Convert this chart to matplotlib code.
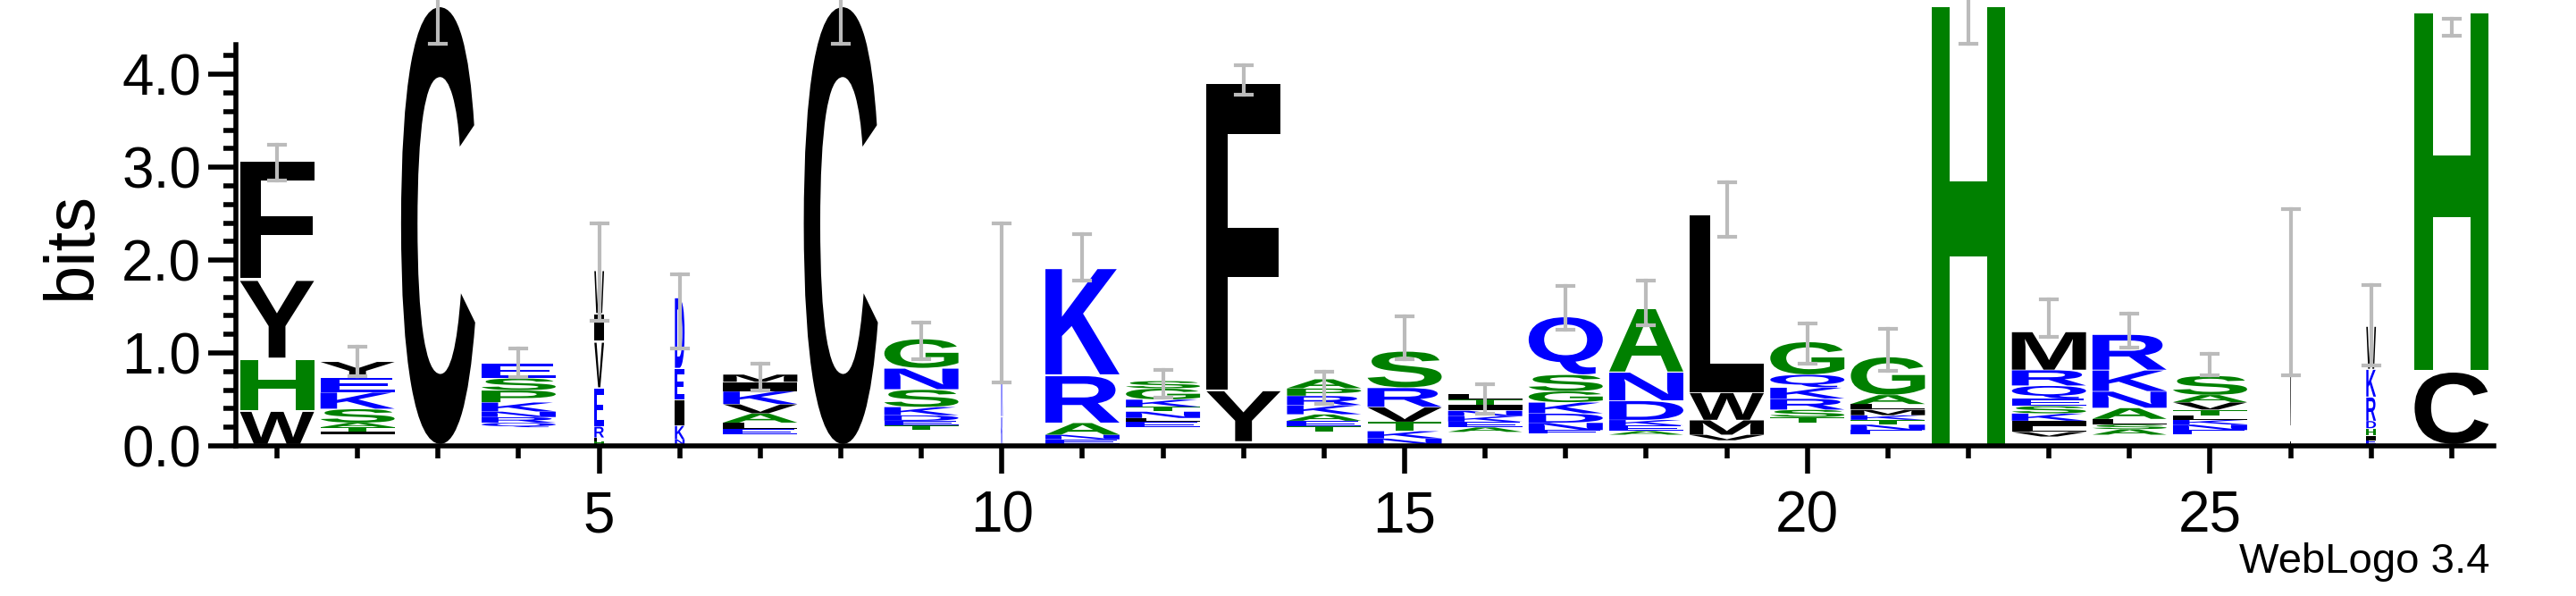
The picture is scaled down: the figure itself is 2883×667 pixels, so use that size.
import matplotlib
matplotlib.use("Agg")
import matplotlib.pyplot as plt
from matplotlib.textpath import TextPath
from matplotlib.patches import PathPatch
from matplotlib.font_manager import FontProperties
from matplotlib.transforms import Affine2D
from matplotlib.ticker import MultipleLocator

plt.rcParams['font.family'] = ['Liberation Sans', 'DejaVu Sans']

positions = list(range(1, 29))
# stacks bottom->top: (letter, bits)
stacks = {
    1: [('W', 0.36), ('H', 0.57), ('Y', 0.86), ('F', 1.3)],
    2: [('I', 0.03), ('T', 0.05), ('A', 0.05), ('S', 0.15), ('K', 0.18), ('E', 0.16), ('Y', 0.17)],
    3: [('C', 4.9)],
    4: [('Q', 0.05), ('R', 0.06), ('N', 0.06), ('K', 0.1), ('P', 0.13), ('S', 0.13), ('E', 0.16)],
    5: [('H', 0.03), ('F', 0.04), ('R', 0.12), ('E', 0.42), ('V', 0.5), ('I', 0.3), ('W', 0.47)],
    6: [('N', 0.05), ('K', 0.15), ('I', 0.28), ('E', 0.34), ('D', 0.78)],
    7: [('E', 0.06), ('L', 0.07), ('A', 0.1), ('V', 0.1), ('K', 0.14), ('I', 0.1), ('M', 0.08)],
    8: [('C', 4.9)],
    9: [('T', 0.05), ('E', 0.05), ('D', 0.06), ('K', 0.09), ('S', 0.19), ('N', 0.23), ('G', 0.32)],
    10: [('K', 0.3), ('R', 1.28)],
    11: [('E', 0.05), ('N', 0.05), ('A', 0.13), ('R', 0.52), ('K', 1.18)],
    12: [('E', 0.06), ('L', 0.04), ('N', 0.07), ('T', 0.05), ('K', 0.08), ('G', 0.12), ('S', 0.08)],
    13: [('Y', 0.56), ('F', 3.42)],
    14: [('T', 0.06), ('E', 0.06), ('A', 0.07), ('K', 0.1), ('R', 0.1), ('P', 0.08), ('A', 0.1)],
    15: [('N', 0.06), ('K', 0.08), ('T', 0.1), ('V', 0.16), ('R', 0.21), ('S', 0.4)],
    16: [('A', 0.05), ('E', 0.06), ('K', 0.06), ('N', 0.06), ('I', 0.06), ('T', 0.06), ('L', 0.06)],
    17: [('E', 0.04), ('N', 0.08), ('D', 0.1), ('K', 0.12), ('G', 0.12), ('S', 0.18), ('Q', 0.64)],
    18: [('A', 0.04), ('E', 0.06), ('K', 0.06), ('D', 0.21), ('N', 0.31), ('A', 0.7)],
    19: [('V', 0.06), ('M', 0.16), ('W', 0.3), ('L', 1.98)],
    20: [('T', 0.06), ('S', 0.08), ('R', 0.12), ('K', 0.12), ('Q', 0.14), ('G', 0.36)],
    21: [('E', 0.05), ('N', 0.06), ('T', 0.05), ('K', 0.05), ('M', 0.06), ('L', 0.06), ('A', 0.1), ('G', 0.42)],
    22: [('H', 4.9)],
    23: [('V', 0.05), ('L', 0.06), ('I', 0.06), ('K', 0.08), ('S', 0.08), ('E', 0.08), ('Q', 0.14), ('R', 0.17), ('M', 0.42)],
    24: [('A', 0.06), ('S', 0.05), ('L', 0.06), ('A', 0.12), ('N', 0.18), ('K', 0.23), ('R', 0.39)],
    25: [('E', 0.05), ('N', 0.06), ('K', 0.05), ('L', 0.05), ('T', 0.06), ('V', 0.08), ('A', 0.08), ('S', 0.21)],
    26: [('L', 0.2), ('V', 1.48)],
    27: [('E', 0.04), ('I', 0.05), ('H', 0.08), ('D', 0.08), ('R', 0.26), ('K', 0.3), ('W', 0.47)],
    28: [('C', 0.8), ('H', 4.0)],
}
# width fraction (gap-weighted)
widths = {5: 0.12, 6: 0.12, 10: 0.02, 26: 0.02, 27: 0.12}
# error bars: (low, high)
errbars = {
    1: (2.86, 3.24), 2: (0.75, 1.07), 3: (4.33, 4.9), 4: (0.74, 1.05), 5: (1.35, 2.4),
    6: (1.05, 1.85), 7: (0.6, 0.88), 8: (4.33, 4.9), 9: (0.93, 1.33), 10: (0.68, 2.4),
    11: (1.78, 2.28), 12: (0.52, 0.82), 13: (3.78, 4.1), 14: (0.45, 0.8), 15: (0.93, 1.39),
    16: (0.35, 0.66), 17: (1.25, 1.72), 18: (1.3, 1.78), 19: (2.25, 2.84), 20: (0.88, 1.32),
    21: (0.81, 1.26), 22: (4.33, 4.9), 23: (1.17, 1.58), 24: (1.06, 1.42), 25: (0.76, 0.99),
    26: (0.76, 2.55), 27: (0.87, 1.73), 28: (4.42, 4.6),
}
tops = {1: 0.02, 2: 0.12, 4: 0.2, 7: 0.12, 9: 0.17, 12: 0.2, 13: 0.05, 14: 0.15, 16: 0.15, 17: 0.13,
        18: 0.12, 19: 0.06, 20: 0.25, 21: 0.12, 23: 0.1, 24: 0.12, 25: 0.12}

GREEN, BLUE, BLACK = '#008000', '#0000ff', '#000000'
colors = {}
for c in 'GSTAHP':
    colors[c] = GREEN
for c in 'KRQNDE':
    colors[c] = BLUE

fig = plt.figure(figsize=(28.83, 6.67), dpi=100)
ax = fig.add_axes([0.0916, 0.252, 0.968 - 0.0916, 0.925 - 0.252])
ax.set_xlim(0.49, 28.52)
ax.set_ylim(0, 4.32)

fp = FontProperties(family='Liberation Sans', weight='bold')

def draw_letter(ch, x, y, w, h):
    tp = TextPath((0, 0), ch, size=1, prop=fp)
    ext = tp.get_extents()
    tr = Affine2D().translate(-ext.x0, -ext.y0).scale(w / ext.width, h / ext.height).translate(x - w / 2, y)
    path = tr.transform_path(tp)
    ax.add_patch(PathPatch(path, facecolor=colors.get(ch, BLACK), edgecolor='none', clip_on=False))

for p in positions:
    w = widths.get(p, 0.92)
    y = tops.get(p, 0.02)
    for ch, h in stacks[p]:
        draw_letter(ch, p, y, w, h * 0.96)
        y += h
    lo, hi = errbars[p]
    ax.plot([p, p], [lo, hi], color='#bbbbbb', lw=3, clip_on=False, zorder=5)
    for yy in (lo, hi):
        ax.plot([p - 0.1, p + 0.1], [yy, yy], color='#bbbbbb', lw=3, clip_on=False, zorder=5)

for s in ['top', 'right']:
    ax.spines[s].set_visible(False)
ax.spines['left'].set_linewidth(4)
ax.spines['bottom'].set_linewidth(4)
ax.xaxis.set_major_locator(MultipleLocator(5))
ax.xaxis.set_minor_locator(MultipleLocator(1))
ax.yaxis.set_minor_locator(MultipleLocator(0.2))
ax.set_yticks([0, 1, 2, 3, 4])
ax.set_yticklabels(['0.0', '1.0', '2.0', '3.0', '4.0'])
ax.tick_params(which='major', length=22, width=4, labelsize=46, pad=6)
ax.tick_params(which='minor', length=10, width=4)
ax.tick_params(axis='x', which='major', pad=14)
ax.set_ylabel('bits', fontsize=56, labelpad=14)

fig.text(2786 / 2883, 1 - 651 / 667, 'WebLogo 3.4', ha='right', va='bottom', fontsize=34)

fig.savefig('out.png', dpi=100)
